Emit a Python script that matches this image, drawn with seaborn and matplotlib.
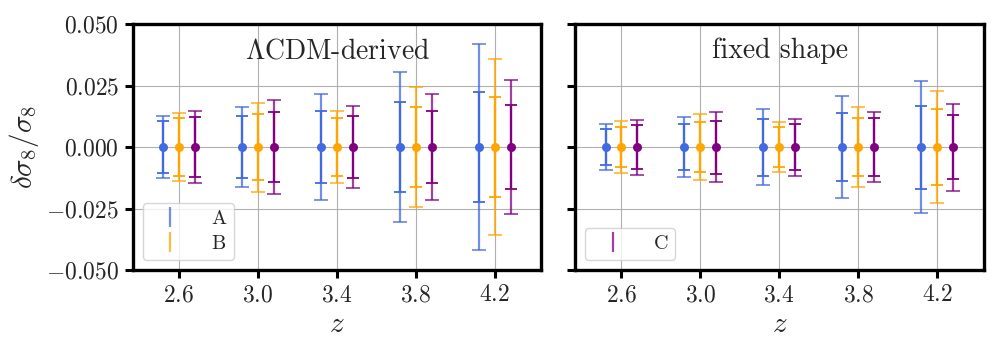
import numpy as np
import matplotlib
matplotlib.use("Agg")
import matplotlib.pyplot as plt
import matplotlib.ticker as mticker
from matplotlib.lines import Line2D
import seaborn as sns

# ------------------------------------------------------------
# data
# ------------------------------------------------------------
z = [2.6, 3.0, 3.4, 3.8, 4.2]
center = [0.0, 0.0, 0.0, 0.0, 0.0]

# left panel: LCDM-derived
left_outer_A = [0.0126, 0.0163, 0.0215, 0.0306, 0.0418]
left_inner_A = [0.0107, 0.0126, 0.0148, 0.0183, 0.0224]
left_outer_B = [0.0139, 0.0181, 0.0147, 0.0244, 0.0358]
left_inner_B = [0.0117, 0.0134, 0.0118, 0.0161, 0.0205]
left_outer_C = [0.0147, 0.0190, 0.0167, 0.0214, 0.0272]
left_inner_C = [0.0122, 0.0142, 0.0126, 0.0147, 0.0171]

# right panel: fixed shape
right_outer_A = [0.0095, 0.0122, 0.0153, 0.0207, 0.0268]
right_inner_A = [0.0074, 0.0094, 0.0116, 0.0137, 0.0169]
right_outer_B = [0.0106, 0.0133, 0.0102, 0.0162, 0.0228]
right_inner_B = [0.0083, 0.0102, 0.0081, 0.0117, 0.0155]
right_outer_C = [0.0112, 0.0142, 0.0116, 0.0144, 0.0177]
right_inner_C = [0.0089, 0.0108, 0.0093, 0.0119, 0.0130]

series_names = ["A", "B", "C"]
series_colors = ["royalblue", "orange", "purple"]
dodge = [-0.08, 0.0, 0.08]

panels = [
    (r"$\Lambda$CDM-derived",
     [left_outer_A, left_outer_B, left_outer_C],
     [left_inner_A, left_inner_B, left_inner_C],
     ["A", "B"]),
    ("fixed shape",
     [right_outer_A, right_outer_B, right_outer_C],
     [right_inner_A, right_inner_B, right_inner_C],
     ["C"]),
]

# ------------------------------------------------------------
# style
# ------------------------------------------------------------
sns.set_style("ticks")
plt.rcParams["font.family"] = ["serif"]
plt.rcParams["font.serif"] = ["cmr10", "DejaVu Serif"]
plt.rcParams["mathtext.fontset"] = "cm"
plt.rcParams["axes.formatter.use_mathtext"] = True

fig, axes = plt.subplots(1, 2, figsize=(10.08, 3.6), dpi=100, sharey=True)
fig.subplots_adjust(left=0.132, right=0.976, top=0.933, bottom=0.25, wspace=0.083)

for ax, (title, outers, inners, legend_names) in zip(axes, panels):
    for name, color, dx, outer, inner in zip(series_names, series_colors, dodge, outers, inners):
        x = np.array(z) + dx
        # outer (lighter) and inner error bars
        ax.errorbar(x, center, yerr=outer, fmt="none", ecolor=color, alpha=0.75,
                    elinewidth=1.6, capsize=5.2, capthick=1.3, zorder=3)
        ax.errorbar(x, center, yerr=inner, fmt="none", ecolor=color,
                    elinewidth=1.6, capsize=4.0, capthick=1.3, zorder=4)
        sns.scatterplot(x=x, y=center, color=color, s=42, linewidth=0,
                        ax=ax, zorder=5, legend=False)

    ax.set_xlim(2.367, 4.437)
    ax.set_ylim(-0.05, 0.05)
    ax.xaxis.set_major_locator(mticker.FixedLocator(z))
    ax.xaxis.set_major_formatter(mticker.FuncFormatter(lambda v, p: r"$%.1f$" % v))
    ax.yaxis.set_major_locator(mticker.MultipleLocator(0.025))
    ax.yaxis.set_major_formatter(mticker.FuncFormatter(lambda v, p: r"$%.3f$" % v))
    ax.grid(True, color="#b0b0b0", linewidth=0.8)
    ax.set_axisbelow(True)
    for sp in ax.spines.values():
        sp.set_linewidth(2.4)
        sp.set_color("black")
    ax.tick_params(axis="both", which="major", direction="out", length=6,
                   width=2.2, labelsize=17, pad=4, color="black")
    ax.set_xlabel(r"$z$", fontsize=21)
    ax.text(0.5, 0.89, title, transform=ax.transAxes, ha="center", va="center",
            fontsize=20)

    handles = []
    for name, color in zip(series_names, series_colors):
        if name in legend_names:
            handles.append(Line2D([], [], color=color, alpha=0.75, marker="|",
                                  linestyle="none", markersize=14, markeredgewidth=1.6,
                                  label=r"$\mathrm{%s}$" % name))
    ax.legend(handles=handles, loc="lower left", fontsize=14.5, frameon=True,
              fancybox=True, framealpha=0.8, edgecolor="#cccccc",
              handletextpad=1.0, borderpad=0.35, labelspacing=0.35)

axes[0].set_ylabel(r"$\delta\sigma_8/\sigma_8$", fontsize=21)
axes[1].tick_params(axis="y", labelleft=False)

fig.savefig("out.png", dpi=100)
